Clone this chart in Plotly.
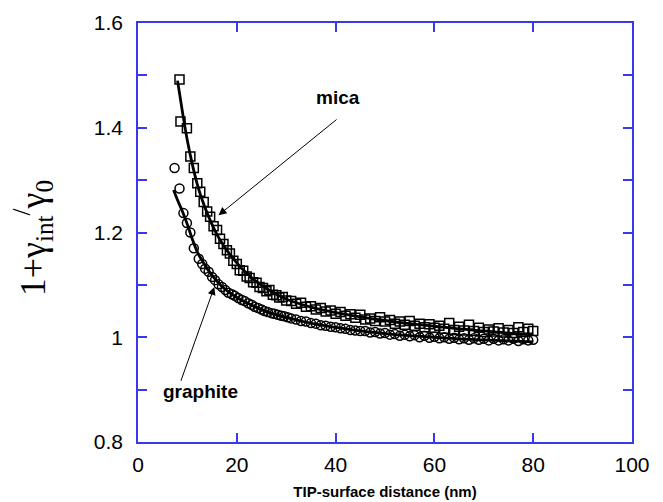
import plotly.graph_objects as go

# ---- data ----
mica_x = [8.4, 8.6, 9.9, 10.6, 11.3, 12.0, 12.6, 13.3, 14.0, 14.6, 15.3, 16.0, 16.6, 17.3,
          18.0, 18.6, 19.3, 20.0, 20.6, 21.3, 22.0, 22.6, 23.3, 24.0, 24.6, 25.3, 26.0, 26.6,
          27.3, 28.0, 28.6, 29.3, 30.0, 31, 32, 33, 34, 35, 36, 37, 38, 39, 40, 41, 42, 43,
          44, 45, 46, 47, 48, 49, 50, 51, 52, 53, 54, 55, 56, 57, 58, 59, 60, 61, 62, 63, 64,
          65, 66, 67, 68, 69, 70, 71, 72, 73, 74, 75, 76, 77, 78, 79, 80]
mica_y = [1.492, 1.412, 1.399, 1.345, 1.323, 1.294, 1.278, 1.258, 1.240, 1.230, 1.212, 1.205,
          1.188, 1.178, 1.166, 1.160, 1.146, 1.140, 1.128, 1.127, 1.116, 1.113, 1.105, 1.104,
          1.096, 1.094, 1.088, 1.090, 1.081, 1.080, 1.076, 1.077, 1.070, 1.069, 1.064, 1.066,
          1.058, 1.059, 1.053, 1.056, 1.049, 1.051, 1.045, 1.048, 1.041, 1.044, 1.037, 1.043,
          1.034, 1.036, 1.031, 1.038, 1.030, 1.033, 1.026, 1.030, 1.024, 1.031, 1.022, 1.026,
          1.019, 1.025, 1.018, 1.022, 1.016, 1.027, 1.014, 1.020, 1.013, 1.024, 1.012, 1.018,
          1.010, 1.015, 1.011, 1.017, 1.009, 1.014, 1.008, 1.019, 1.010, 1.016, 1.012]

graphite_x = [7.4, 8.4, 9.2, 9.9, 10.6, 11.3, 12.3, 13.0, 13.6, 14.3, 15.0, 15.6, 16.3, 17.0,
              17.7, 18.3, 19.0, 19.6, 20.3, 21.0, 21.6, 22.3, 23.0, 23.6, 24.3, 25.0, 25.6,
              26.3, 27.0, 27.6, 28.3, 29.0, 29.6, 30.3, 31, 32, 33, 34, 35, 36, 37, 38, 39, 40,
              41, 42, 43, 44, 45, 46, 47, 48, 49, 50, 51, 52, 53, 54, 55, 56, 57, 58, 59, 60,
              61, 62, 63, 64, 65, 66, 67, 68, 69, 70, 71, 72, 73, 74, 75, 76, 77, 78, 79, 80]
graphite_y = [1.323, 1.284, 1.237, 1.218, 1.200, 1.170, 1.150, 1.140, 1.131, 1.125, 1.115,
              1.109, 1.101, 1.096, 1.090, 1.085, 1.082, 1.079, 1.075, 1.071, 1.069, 1.065,
              1.062, 1.058, 1.056, 1.053, 1.050, 1.048, 1.046, 1.045, 1.043, 1.041, 1.040,
              1.038, 1.036, 1.034, 1.031, 1.030, 1.027, 1.026, 1.023, 1.022, 1.020, 1.019,
              1.017, 1.016, 1.014, 1.013, 1.012, 1.012, 1.009, 1.010, 1.007, 1.008, 1.005,
              1.006, 1.003, 1.005, 1.002, 1.004, 1.000, 1.003, 0.999, 1.001, 0.998, 1.000,
              0.997, 0.999, 0.996, 0.998, 0.995, 0.998, 0.995, 0.997, 0.994, 0.997, 0.994,
              0.996, 0.994, 0.997, 0.993, 0.996, 0.994, 0.995]

mica_fit_x = [8, 9, 10, 11, 12, 13, 14, 15, 16, 17, 18, 20, 22, 24, 26, 28, 30, 33, 36, 40,
              45, 50, 55, 60, 65, 70, 75, 80]
mica_fit_y = [1.49, 1.43, 1.375, 1.33, 1.292, 1.262, 1.237, 1.215, 1.196, 1.18, 1.166, 1.142,
              1.122, 1.106, 1.093, 1.082, 1.073, 1.063, 1.055, 1.047, 1.039, 1.032, 1.026,
              1.021, 1.016, 1.012, 1.008, 1.005]

graphite_fit_x = [7.2, 8, 9, 10, 11, 12, 13, 14, 15, 16, 17, 18, 20, 22, 24, 26, 28, 30, 33,
                  36, 40, 45, 50, 55, 60, 65, 70, 75, 80]
graphite_fit_y = [1.281, 1.262, 1.24, 1.215, 1.187, 1.163, 1.146, 1.131, 1.118, 1.107, 1.097,
                  1.089, 1.076, 1.066, 1.057, 1.049, 1.043, 1.038, 1.031, 1.025, 1.019,
                  1.012, 1.007, 1.003, 1.0, 0.997, 0.995, 0.993, 0.991]

x_ticks = [0, 20, 40, 60, 80, 100]
y_ticks = [0.8, 1.0, 1.2, 1.4, 1.6]
y_ticktext = ["0.8", "1", "1.2", "1.4", "1.6"]

BLUE = "#3838f0"
SANS = "Liberation Sans, Arial, sans-serif"

fig = go.Figure()
fig.add_trace(go.Scatter(x=mica_x, y=mica_y, mode="markers",
                         marker=dict(symbol="square-open", size=9, color="black",
                                     line=dict(width=1.5, color="black")),
                         showlegend=False))
fig.add_trace(go.Scatter(x=graphite_x, y=graphite_y, mode="markers",
                         marker=dict(symbol="circle-open", size=9, color="black",
                                     line=dict(width=1.5, color="black")),
                         showlegend=False))
fig.add_trace(go.Scatter(x=mica_fit_x, y=mica_fit_y, mode="lines", line_shape="spline",
                         line=dict(color="black", width=2.8), showlegend=False))
fig.add_trace(go.Scatter(x=graphite_fit_x, y=graphite_fit_y, mode="lines", line_shape="spline",
                         line=dict(color="black", width=2.8), showlegend=False))

fig.update_layout(
    width=655, height=494,
    margin=dict(l=129.5, r=30.5, t=15, b=60),
    paper_bgcolor="white", plot_bgcolor="white",
    font=dict(family=SANS, color="black"),
    xaxis=dict(range=[0, 100], tickvals=x_ticks, ticks="inside", ticklen=9,
               tickwidth=1.5, tickcolor=BLUE, showline=True, linecolor=BLUE,
               linewidth=1.5, mirror="ticks", showgrid=False, zeroline=False,
               ticklabelstandoff=3, automargin=False,
               tickfont=dict(size=21, family=SANS),
               title=dict(text="<b>TIP-surface distance (nm)</b>",
                          font=dict(size=15, family=SANS), standoff=12)),
    yaxis=dict(range=[0.8, 1.6], tickvals=y_ticks, ticktext=y_ticktext, ticks="inside",
               ticklen=9, tickwidth=1.5, tickcolor=BLUE, showline=True, linecolor=BLUE,
               linewidth=1.5, mirror="ticks", showgrid=False, zeroline=False,
               ticklabelstandoff=9, automargin=False,
               tickfont=dict(size=21, family=SANS),
               minor=dict(dtick=0.1, tick0=0.8, ticks="inside", ticklen=9, tickwidth=1.5,
                          tickcolor=BLUE, showgrid=False)),
)

fig.add_annotation(xref="paper", yref="paper", x=-0.212, y=0.487,
                   xanchor="center", yanchor="middle",
                   text="1+γ<sub>int</sub><sup>/</sup>γ<sub>0</sub>", textangle=-90,
                   showarrow=False,
                   font=dict(size=36, family="Liberation Serif, Times New Roman, serif"))

fig.add_annotation(x=40.5, y=1.457, text="<b>mica</b>", showarrow=False,
                   font=dict(size=19, family=SANS))
fig.add_annotation(x=12.6, y=0.897, text="<b>graphite</b>", showarrow=False,
                   font=dict(size=19, family=SANS))

fig.add_annotation(x=16.3, y=1.233, ax=40.5, ay=1.418, axref="x", ayref="y", text="",
                   showarrow=True, arrowhead=2, arrowsize=1.6, arrowwidth=1,
                   arrowcolor="black", standoff=0)
fig.add_annotation(x=15.45, y=1.096, ax=8.58, ay=0.914, axref="x", ayref="y", text="",
                   showarrow=True, arrowhead=2, arrowsize=1.6, arrowwidth=1,
                   arrowcolor="black", standoff=0)

fig.write_html("out.html")
